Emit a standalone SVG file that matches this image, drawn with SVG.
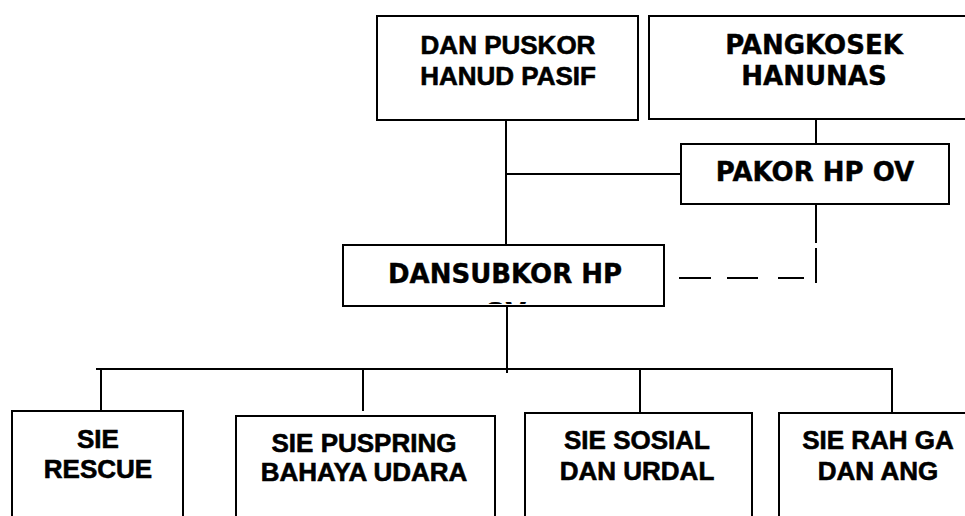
<svg xmlns="http://www.w3.org/2000/svg" width="965" height="516" viewBox="0 0 965 516">
<style>
.box{fill:#fff;stroke:#000;stroke-width:2}
.ln{stroke:#000;stroke-width:2;fill:none}
.a{font-family:"Liberation Sans",Arial,sans-serif;font-weight:bold;font-size:26px;text-anchor:middle;fill:#000;stroke:#000;stroke-width:0.6}
.v{font-family:"DejaVu Sans",Verdana,sans-serif;font-weight:bold;font-size:26px;text-anchor:middle;fill:#000;stroke:#000;stroke-width:0.4}
</style>
<defs>
<clipPath id="clipOv"><rect x="343" y="302" width="321" height="2"/></clipPath>
</defs>
<rect width="965" height="516" fill="#fff"/>
<g id="connectors">
<line class="ln" x1="506" y1="120" x2="506" y2="245"/>
<line class="ln" x1="506" y1="174" x2="681" y2="174"/>
<line class="ln" x1="816" y1="119" x2="816" y2="144"/>
<line class="ln" x1="816" y1="204" x2="816" y2="243"/>
<line class="ln" x1="816" y1="248" x2="816" y2="283"/>
<line class="ln" x1="679" y1="278" x2="711" y2="278"/>
<line class="ln" x1="727" y1="278" x2="758" y2="278"/>
<line class="ln" x1="778" y1="278" x2="804" y2="278"/>
<line class="ln" x1="507" y1="306" x2="507" y2="373"/>
<line class="ln" x1="96" y1="369" x2="893" y2="369"/>
<line class="ln" x1="101" y1="369" x2="101" y2="411"/>
<line class="ln" x1="363" y1="369" x2="363" y2="411"/>
<line class="ln" x1="640" y1="369" x2="640" y2="413"/>
<line class="ln" x1="892" y1="369" x2="892" y2="413"/>
</g>
<g id="dan-puskor">
<rect class="box" x="377" y="16" width="261" height="104"/>
<text class="a" x="508" y="54">DAN PUSKOR</text>
<text class="a" x="508" y="85">HANUD PASIF</text>
</g>
<g id="pangkosek">
<rect class="box" x="649" y="16" width="330" height="103"/>
<text class="v" x="814" y="54">PANGKOSEK</text>
<text class="v" x="814" y="85">HANUNAS</text>
</g>
<g id="pakor">
<rect class="box" x="681" y="144" width="268" height="60"/>
<text class="v" x="815" y="181">PAKOR HP OV</text>
</g>
<g id="dansubkor">
<rect class="box" x="343" y="245" width="321" height="61"/>
<text class="v" x="505" y="283">DANSUBKOR HP</text>
<text class="v" x="505" y="322" clip-path="url(#clipOv)">OV</text>
</g>
<g id="sie-rescue">
<rect class="box" x="12" y="411" width="171" height="120"/>
<text class="a" x="98" y="448">SIE</text>
<text class="a" x="98" y="478">RESCUE</text>
</g>
<g id="sie-puspring">
<rect class="box" x="236" y="416" width="259" height="120"/>
<text class="a" x="364" y="452">SIE PUSPRING</text>
<text class="a" x="364" y="481">BAHAYA UDARA</text>
</g>
<g id="sie-sosial">
<rect class="box" x="525" y="413" width="227" height="120"/>
<text class="a" x="637" y="449">SIE SOSIAL</text>
<text class="a" x="637" y="480">DAN URDAL</text>
</g>
<g id="sie-rahga">
<rect class="box" x="779" y="413" width="200" height="120"/>
<text class="a" x="878" y="449">SIE RAH GA</text>
<text class="a" x="878" y="480">DAN ANG</text>
</g>
</svg>
